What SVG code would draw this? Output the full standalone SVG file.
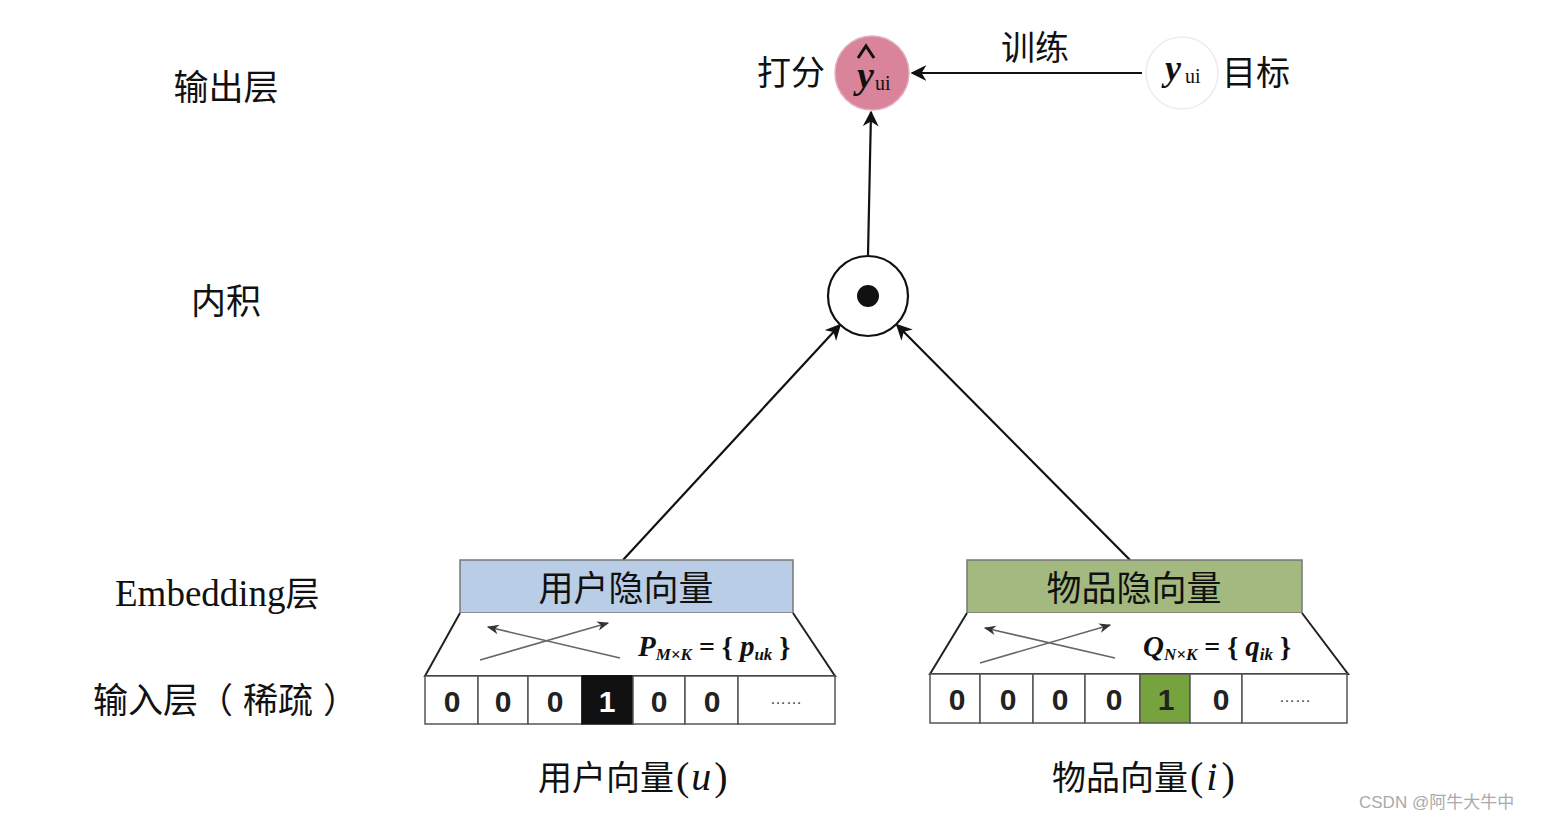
<svg xmlns="http://www.w3.org/2000/svg" width="1544" height="820" viewBox="0 0 1544 820">
<style>
.cjk{font-family:"Noto Sans CJK SC","Liberation Sans",sans-serif;fill:#111}
.ser{font-family:"Liberation Serif","Noto Sans CJK SC",serif;fill:#111}
.math{font-family:"Liberation Serif",serif;font-style:italic;font-weight:bold;fill:#111}
.cell{fill:#fff;stroke:#555;stroke-width:1.5}
.num{font-family:"Liberation Sans",sans-serif;font-size:30px;font-weight:bold;fill:#222;text-anchor:middle}
.edge{stroke:#111;stroke-width:2.2;fill:none}
.thin{stroke:#666;stroke-width:1.6;fill:none}
.trap{fill:#fff;stroke:#222;stroke-width:2}
</style>
<defs>
<marker id="ahb" viewBox="0 0 10 10" refX="9" refY="5" markerWidth="16" markerHeight="16" orient="auto" markerUnits="userSpaceOnUse">
<path d="M0,0 L10,5 L0,10 L3,5 z" fill="#111"/>
</marker>
<marker id="ahs" viewBox="0 0 10 10" refX="9" refY="5" markerWidth="12" markerHeight="12" orient="auto" markerUnits="userSpaceOnUse">
<path d="M0,1 L10,5 L0,9 L3,5 z" fill="#333"/>
</marker>
</defs>

<g id="layer-labels">
<text class="cjk" x="226" y="100" font-size="35" text-anchor="middle">输出层</text>
<text class="cjk" x="226" y="314" font-size="35" text-anchor="middle">内积</text>
<text class="ser" x="115" y="606" font-size="37">Embedding<tspan class="cjk" font-size="34">层</tspan></text>
<text class="cjk" x="93" y="713" font-size="35">输入层（<tspan dx="10">稀疏</tspan><tspan dx="10">）</tspan></text>
</g>

<g id="connectors">
<line class="edge" x1="1142" y1="73" x2="912" y2="73" marker-end="url(#ahb)"/>
<line class="edge" x1="868" y1="255" x2="871" y2="112" marker-end="url(#ahb)"/>
<line class="edge" x1="623" y1="560" x2="840" y2="325" marker-end="url(#ahb)"/>
<line class="edge" x1="1130" y1="560" x2="897" y2="325" marker-end="url(#ahb)"/>
</g>

<g id="score-node">
<text class="cjk" x="757" y="85" font-size="34">打分</text>
<circle cx="872" cy="73" r="37" fill="#d9849a" stroke="#e0b0bc" stroke-width="1.5"/>
<text class="math" x="857" y="88" font-size="38">y</text>
<path d="M858,58 L866,46 L874,58" fill="none" stroke="#111" stroke-width="3"/>
<text class="ser" x="875" y="90" font-size="20">ui</text>
</g>

<g id="train-label">
<text class="cjk" x="1035" y="60" font-size="34" text-anchor="middle">训练</text>
</g>

<g id="target-node">
<circle cx="1182" cy="73" r="36" fill="#fff" stroke="#ececec" stroke-width="1.5"/>
<text class="math" x="1165" y="80" font-size="36">y</text>
<text class="ser" x="1185" y="83" font-size="20">ui</text>
<text class="cjk" x="1222" y="85" font-size="34">目标</text>
</g>

<g id="inner-product">
<circle cx="868" cy="296" r="40" fill="#fff" stroke="#111" stroke-width="2.2"/>
<circle cx="868" cy="296" r="11" fill="#111"/>
</g>

<g id="user-embedding">
<rect x="460" y="560" width="333" height="53" fill="#b9cde6" stroke="#777" stroke-width="1.5"/>
<text class="cjk" x="626" y="601" font-size="35" text-anchor="middle">用户隐向量</text>
<path class="trap" d="M460,613 L425,676 L835,676 L793,613"/>
<line class="thin" x1="620" y1="658" x2="488" y2="627" marker-end="url(#ahs)"/>
<line class="thin" x1="480" y1="660" x2="608" y2="623" marker-end="url(#ahs)"/>
<text class="math" x="638" y="656" font-size="29">P<tspan font-size="17" dy="4">M×K</tspan><tspan font-style="normal" dy="-4" font-size="28"> = {  </tspan>p<tspan font-size="17" dy="4">uk</tspan><tspan font-style="normal" dy="-4" font-size="28">  }</tspan></text>
</g>

<g id="user-input">
<rect class="cell" x="425" y="676" width="53" height="48"/>
<rect class="cell" x="478" y="676" width="50" height="48"/>
<rect class="cell" x="528" y="676" width="54" height="48"/>
<rect x="582" y="676" width="51" height="48" fill="#111" stroke="#111" stroke-width="1.5"/>
<rect class="cell" x="633" y="676" width="52" height="48"/>
<rect class="cell" x="685" y="676" width="53" height="48"/>
<rect class="cell" x="738" y="676" width="97" height="48"/>
<text class="num" x="452" y="712">0</text>
<text class="num" x="503" y="712">0</text>
<text class="num" x="555" y="712">0</text>
<text class="num" x="607" y="712" style="fill:#fff" font-size="26">1</text>
<text class="num" x="659" y="712">0</text>
<text class="num" x="712" y="712">0</text>
<text x="786" y="704" font-family="Liberation Sans,sans-serif" font-size="16" fill="#444" text-anchor="middle">……</text>
</g>

<g id="item-embedding">
<rect x="967" y="560" width="335" height="53" fill="#a3b97f" stroke="#777" stroke-width="1.5"/>
<text class="cjk" x="1134" y="601" font-size="35" text-anchor="middle">物品隐向量</text>
<path class="trap" d="M967,613 L930,674 L1348,674 L1302,613"/>
<line class="thin" x1="1115" y1="658" x2="985" y2="628" marker-end="url(#ahs)"/>
<line class="thin" x1="980" y1="663" x2="1110" y2="625" marker-end="url(#ahs)"/>
<text class="math" x="1143" y="656" font-size="29">Q<tspan font-size="17" dy="4">N×K</tspan><tspan font-style="normal" dy="-4" font-size="28"> = {  </tspan>q<tspan font-size="17" dy="4">ik</tspan><tspan font-style="normal" dy="-4" font-size="28">  }</tspan></text>
</g>

<g id="item-input">
<rect class="cell" x="930" y="674" width="50" height="49"/>
<rect class="cell" x="980" y="674" width="53" height="49"/>
<rect class="cell" x="1033" y="674" width="52" height="49"/>
<rect class="cell" x="1085" y="674" width="55" height="49"/>
<rect x="1140" y="674" width="50" height="49" fill="#77a33f" stroke="#555" stroke-width="1.5"/>
<rect class="cell" x="1190" y="674" width="52" height="49"/>
<rect class="cell" x="1242" y="674" width="105" height="49"/>
<text class="num" x="957" y="710">0</text>
<text class="num" x="1008" y="710">0</text>
<text class="num" x="1060" y="710">0</text>
<text class="num" x="1114" y="710">0</text>
<text class="num" x="1166" y="710" font-size="26">1</text>
<text class="num" x="1221" y="710">0</text>
<text x="1295" y="702" font-family="Liberation Sans,sans-serif" font-size="16" fill="#444" text-anchor="middle">……</text>
</g>

<g id="bottom-labels">
<text class="cjk" x="538" y="790" font-size="34">用户向量<tspan class="ser" font-size="40" dx="2">(<tspan font-style="italic" dx="2">u</tspan><tspan dx="3">)</tspan></tspan></text>
<text class="cjk" x="1052" y="790" font-size="34">物品向量<tspan class="ser" font-size="40" dx="2">(<tspan font-style="italic" dx="3">i</tspan><tspan dx="4">)</tspan></tspan></text>
</g>

<g id="watermark">
<text x="1359" y="808" font-family="Liberation Sans,Noto Sans CJK SC,sans-serif" font-size="17" fill="#aaa">CSDN @阿牛大牛中</text>
</g>
</svg>
